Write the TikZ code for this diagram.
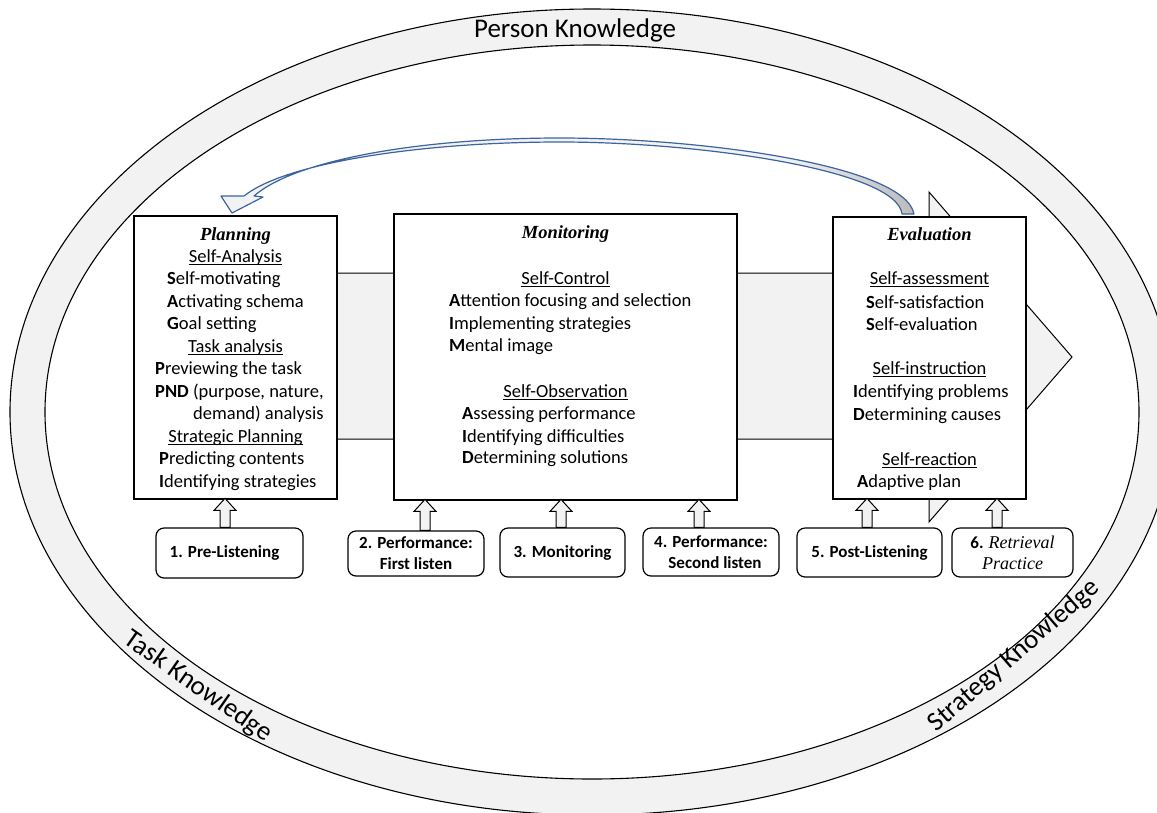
\documentclass[tikz,border=0pt]{standalone}
\usepackage{fontspec}
\setmainfont{Carlito}
\newfontfamily\tnr{Liberation Serif}
\definecolor{ringgray}{HTML}{F2F2F2}
\definecolor{curveblue}{HTML}{3C64A0}
\definecolor{curvegray}{HTML}{B8B8B8}
\newcommand\ulx[1]{\setbox0\hbox{#1}\rlap{\rule[-3pt]{\wd0}{0.9pt}}\box0}
\begin{document}
\begin{tikzpicture}[x=1pt,y=-1pt,line join=miter]
\tikzset{
 ring/.style={draw=black, line width=1.1pt},
 mainbox/.style={draw=black, line width=1.3pt, fill=white, inner sep=0pt},
 stepbox/.style={draw=black, line width=1.2pt, fill=white, rounded corners=8pt, align=center, font=\bfseries\fontsize{17}{21}\selectfont, inner sep=0pt},
 bigarrow/.style={draw=black, line width=1pt, fill=ringgray},
 smallarr/.style={draw=black, line width=1pt, fill=ringgray},
 entry/.style={inner sep=0pt, anchor=base west, font=\fontsize{18.5}{22.5}\selectfont},
 heading/.style={inner sep=0pt, anchor=base, font=\fontsize{18.5}{22.5}\selectfont},
 boxtitle/.style={inner sep=0pt, anchor=base, font=\tnr\bfseries\itshape\fontsize{18.5}{22.5}\selectfont},
 ringlabel/.style={inner sep=0pt, font=\fontsize{27}{32}\selectfont},
 pics/uparrow/.style={code={\draw[smallarr] (-5,0) -- (-5,{12-#1}) -- (-11,{12-#1}) -- (0,{-#1}) -- (11,{12-#1}) -- (5,{12-#1}) -- (5,0) -- cycle;}}
}
\useasboundingbox (0,0) rectangle (1157,812);
% knowledge ring
\coordinate (rc) at (592,412);
\fill[ringgray, even odd rule] (rc) ellipse [x radius=582pt, y radius=403pt] (rc) ellipse [x radius=547pt, y radius=367pt];
\draw[ring] (rc) ellipse [x radius=582pt, y radius=403pt];
\draw[ring] (rc) ellipse [x radius=547pt, y radius=367pt];
\node[ringlabel] (pk) at (575,30) {Person Knowledge};
\node[ringlabel, rotate=-35] (tk) at (198,687) {Task Knowledge};
\node[ringlabel, rotate=41] (sk) at (1014,656) {Strategy Knowledge};
% curved feedback arrow
\def\curvepath{(914,214) .. controls (905,165) and (700,138) .. (560,138) .. controls (420,138) and (295,160) .. (254,196) -- (263,197) -- (232,213) -- (221,196) -- (244,196) .. controls (285,163) and (420,142) .. (560,142) .. controls (700,142) and (897,170) .. (902,214) -- cycle}
\fill[ringgray] \curvepath;
\begin{scope}
\clip \curvepath;
\shade[left color=ringgray, right color=curvegray] (790,120) rectangle (920,220);
\end{scope}
\draw[curveblue, line width=1.2pt, line join=round] \curvepath;
% big process arrow
\draw[bigarrow] (300,273) -- (929,273) -- (929,192) -- (1072,357) -- (929,522) -- (929,439) -- (300,439) -- cycle;
% main boxes
\node[mainbox, minimum width=203pt, minimum height=283pt] (plan) at (235.5,357.5) {};
\node[mainbox, minimum width=343pt, minimum height=286pt] (mon) at (565.5,357) {};
\node[mainbox, minimum width=193pt, minimum height=282pt] (eval) at (929.5,358) {};
% Planning
\node[boxtitle] (pt) at (235.5,240) {Planning};
\node[heading] (ph1) at (235.5,262) {\ulx{Self-Analysis}};
\node[entry] (pa1) at (167,284.5) {\textbf{S}elf-motivating};
\node[entry] (pa2) at (167,307) {\textbf{A}ctivating schema};
\node[entry] (pa3) at (167,329.5) {\textbf{G}oal setting};
\node[heading] (ph2) at (235.5,352) {\ulx{Task analysis}};
\node[entry] (pb1) at (155,374.5) {\textbf{P}reviewing the task};
\node[entry] (pb2) at (155,397) {\textbf{PND} (purpose, nature,};
\node[entry] (pb3) at (193,419.5) {demand) analysis};
\node[heading] (ph3) at (235.5,442) {\ulx{Strategic Planning}};
\node[entry] (pc1) at (159,464.5) {\textbf{P}redicting contents};
\node[entry] (pc2) at (159,487) {\textbf{I}dentifying strategies};
% Monitoring
\node[boxtitle] (mt) at (565.5,238) {Monitoring};
\node[heading] (mh1) at (565.5,284) {\ulx{Self-Control}};
\node[entry] (ma1) at (449,306) {\textbf{A}ttention focusing and selection};
\node[entry] (ma2) at (449,329) {\textbf{I}mplementing strategies};
\node[entry] (ma3) at (449,351) {\textbf{M}ental image};
\node[heading] (mh2) at (565.5,397) {\ulx{Self-Observation}};
\node[entry] (mb1) at (462,419) {\textbf{A}ssessing performance};
\node[entry] (mb2) at (462,442) {\textbf{I}dentifying difficulties};
\node[entry] (mb3) at (462,463.5) {\textbf{D}etermining solutions};
% Evaluation
\node[boxtitle] (et) at (929.5,240) {Evaluation};
\node[heading] (eh1) at (929.5,284) {\ulx{Self-assessment}};
\node[entry] (ea1) at (866,308) {\textbf{S}elf-satisfaction};
\node[entry] (ea2) at (866,330) {\textbf{S}elf-evaluation};
\node[heading] (eh2) at (929.5,374) {\ulx{Self-instruction}};
\node[entry] (eb1) at (853,397) {\textbf{I}dentifying problems};
\node[entry] (eb2) at (853,420) {\textbf{D}etermining causes};
\node[heading] (eh3) at (929.5,465) {\ulx{Self-reaction}};
\node[entry] (ec1) at (857,487) {\textbf{A}daptive plan};
% step boxes
\node[stepbox, minimum width=147pt, minimum height=50pt] (s1) at (229.5,553) {1. Pre-Listening\hspace*{10pt}};
\node[stepbox, minimum width=136pt, minimum height=45pt] (s2) at (416,553.5) {2. Performance:\\First listen};
\node[stepbox, minimum width=125pt, minimum height=49pt] (s3) at (562.5,552.5) {3. Monitoring};
\node[stepbox, minimum width=136pt, minimum height=48pt] (s4) at (711,552) {4. Performance:\\\hspace*{8pt}Second listen};
\node[stepbox, minimum width=145pt, minimum height=49pt] (s5) at (869.5,552.5) {5. Post-Listening};
\node[stepbox, minimum width=121pt, minimum height=49pt] (s6) at (1012.5,552.5) {6. {\tnr\mdseries\itshape\fontsize{18}{21}\selectfont Retrieval}\\{\tnr\mdseries\itshape\fontsize{18}{21}\selectfont Practice}};
% up arrows from steps to phases
\pic at ([xshift=-4.5pt]s1.north) {uparrow=29};
\pic at ([xshift=9pt]s2.north) {uparrow=31};
\pic at ([xshift=-1.5pt]s3.north) {uparrow=28};
\pic at ([xshift=-12pt]s4.north) {uparrow=28};
\pic at ([xshift=-2.5pt]s5.north) {uparrow=29};
\pic at ([xshift=-15.5pt]s6.north) {uparrow=29};
\end{tikzpicture}
\end{document}
